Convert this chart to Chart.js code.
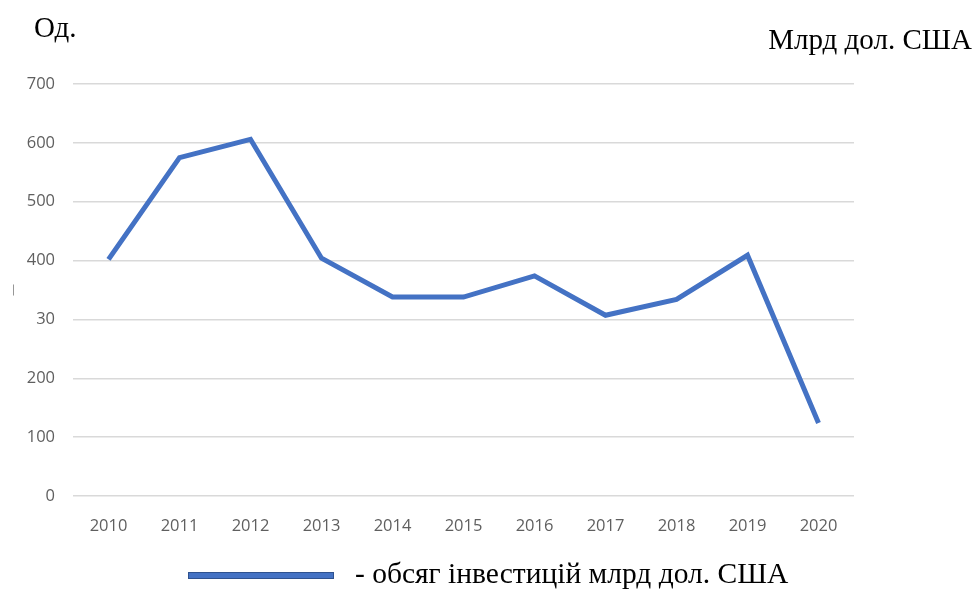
<!DOCTYPE html>
<html>
<head>
<meta charset="utf-8">
<script src="https://cdn.jsdelivr.net/npm/chart.js@4/dist/chart.umd.min.js"></script>
<style>
  body { margin: 0; background: #fff; }
  #wrap { position: relative; width: 976px; height: 589px; }
  #myChart { position: absolute; left: 0; top: 0; }
  .note { position: absolute; font-family: "Liberation Serif", "Times New Roman", serif; font-size: 29px; line-height: 1; color: #000; white-space: nowrap; }
  #legendBar { position: absolute; left: 188px; top: 572px; width: 144px; height: 5px; background: #4472c4; border: 1px solid #2f528f; }
</style>
</head>
<body>
<div id="wrap">
  <canvas id="myChart" width="976" height="589"></canvas>
  <div class="note" style="left:34px; top:13px;">Од.</div>
  <div class="note" style="right:4px; top:25px;">Млрд дол. США</div>
  <div id="legendBar"></div>
  <div class="note" style="left:355px; top:559px; font-size:29.5px;">- обсяг інвестицій млрд дол. США</div>
</div>
<script>
var years = ["2010","2011","2012","2013","2014","2015","2016","2017","2018","2019","2020"];
var invest = [402, 575, 606, 404, 338, 338, 374, 307, 334, 409, 124];
var yTicks = [0, 100, 200, 300, 400, 500, 600, 700];
var yTickText = ["0","100","200","30","400","500","600","700"];

var grapharea = document.getElementById("myChart").getContext("2d");
var mychart = new Chart(grapharea, {
  type: "line",
  data: {
    labels: years,
    datasets: [{
      data: invest,
      borderColor: "#4472c4",
      borderWidth: 5,
      pointRadius: 0,
      tension: 0,
      fill: false
    }]
  },
  options: {
    responsive: false,
    animation: false,
    layout: { padding: { left: 0, right: 122, top: 84, bottom: 0 } },
    plugins: { legend: { display: false }, tooltip: { enabled: false } },
    scales: {
      x: {
        offset: true,
        grid: { display: false },
        border: { display: false },
        ticks: { color: "#5f5f5f", font: { family: "Open Sans", size: 16.5 }, padding: 12, maxRotation: 0 },
        afterFit: function (s) { s.height = 93; }
      },
      y: {
        min: 0,
        max: 700,
        afterBuildTicks: function (s) { s.ticks = yTicks.map(function (v) { return { value: v }; }); },
        grid: { color: "#d9d9d9", lineWidth: 1.5, drawTicks: false },
        border: { display: false },
        ticks: {
          color: "#5f5f5f",
          font: { family: "Open Sans", size: 16.5 },
          padding: 18,
          callback: function (v, i) { return yTickText[i]; }
        },
        title: { display: true, text: "—", color: "#777", font: { size: 11 }, padding: { top: 6, bottom: 0 } },
        afterFit: function (s) { s.width = 73; }
      }
    }
  }
});
</script>
</body>
</html>
